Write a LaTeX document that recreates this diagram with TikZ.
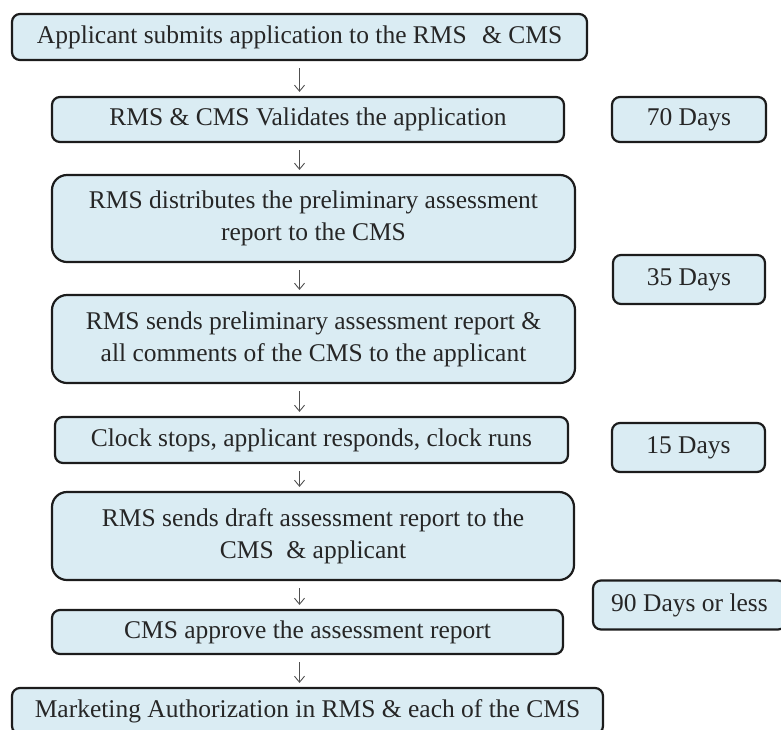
\documentclass[tikz,border=0pt]{standalone}
\usepackage{fontspec}
\setmainfont{Liberation Serif}
\usetikzlibrary{arrows.meta}
\definecolor{boxfill}{HTML}{DAECF3}
\definecolor{boxborder}{HTML}{1C1C1C}
\definecolor{arrowgray}{HTML}{505050}
\definecolor{textgray}{HTML}{262626}
\tikzset{
  stepbox/.style={draw=boxborder, line width=2.2pt, fill=boxfill, rounded corners=#1,
                  inner sep=0pt, align=center, text=textgray,
                  font=\fontsize{25.5}{32}\selectfont},
  stepbox/.default=8pt,
  flowarrow/.style={draw=arrowgray, line width=0.9pt, -{Straight Barb[length=6pt,width=10pt]},
                    shorten <=7pt, shorten >=4pt}
}

\begin{document}
\begin{tikzpicture}[x=1pt, y=-1pt]
\useasboundingbox (0,0) rectangle (781,729);
% main steps
\node[stepbox, minimum width=575pt, minimum height=46pt] (s1) at (299.5,37)
  {Applicant submits application to the RMS\hspace{0.6em}\& CMS};
\node[stepbox, minimum width=512pt, minimum height=45pt] (s2) at (308,119.5)
  {RMS \& CMS Validates the application};
\node[stepbox=15pt, minimum width=523pt, minimum height=87pt] (s3) at (313.5,218.5)
  {RMS distributes the preliminary assessment\\report to the CMS};
\node[stepbox=15pt, minimum width=523pt, minimum height=88pt] (s4) at (313.5,339)
  {RMS sends preliminary assessment report \&\\all comments of the CMS to the applicant};
\node[stepbox, minimum width=513pt, minimum height=46pt] (s5) at (311.5,440)
  {Clock stops, applicant responds, clock runs};
\node[stepbox=15pt, minimum width=522pt, minimum height=88pt] (s6) at (313,536)
  {RMS sends draft assessment report to the\\CMS\hspace{0.5em}\& applicant};
\node[stepbox, minimum width=511pt, minimum height=44pt] (s7) at (307.5,632)
  {CMS approve the assessment report};
\node[stepbox, minimum width=591pt, minimum height=46pt] (s8) at (307.5,711)
  {Marketing Authorization in RMS \& each of the CMS};
% time frames
\node[stepbox, minimum width=154pt, minimum height=45pt] (d1) at (689,119.5) {70 Days};
\node[stepbox, minimum width=152pt, minimum height=49pt] (d2) at (689,279.5) {35 Days};
\node[stepbox, minimum width=153pt, minimum height=49pt] (d3) at (688.5,447.5) {15 Days};
\node[stepbox, minimum width=193pt, minimum height=49pt] (d4) at (689.5,605) {90 Days or less};
% arrows
\foreach \a/\b in {s1/s2, s2/s3, s3/s4, s4/s5, s5/s6, s6/s7, s7/s8}
  \draw[flowarrow] (s1.south |- \a.south) -- (s1.south |- \b.north);
\end{tikzpicture}
\end{document}
